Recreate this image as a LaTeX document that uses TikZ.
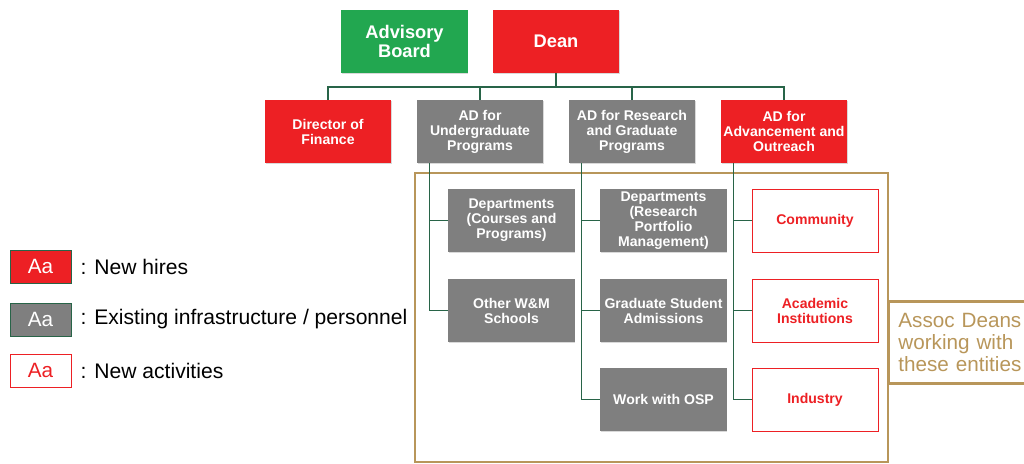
\documentclass[tikz,border=0pt]{standalone}
\usepackage{fontspec}
\setmainfont{Liberation Sans}
\usetikzlibrary{%
  calc,
  shadows
}

\definecolor{hirered}{RGB}{237,32,36}
\definecolor{boardgreen}{RGB}{34,167,80}
\definecolor{infragray}{RGB}{127,127,127}
\definecolor{linegreen}{RGB}{40,100,72}
\definecolor{assoctan}{RGB}{184,150,90}

\begin{document}
\begin{tikzpicture}[x=0.025cm, y=-0.025cm,
    box/.style={minimum width=3.15cm, minimum height=1.575cm, inner sep=1pt, align=center,
      font=\bfseries\fontsize{10}{10.7}\selectfont,
      drop shadow={opacity=0.3, shadow xshift=0.6pt, shadow yshift=-0.8pt}},
    bigbox/.style={box, font=\bfseries\fontsize{13}{13.6}\selectfont},
    hire/.style={box, fill=hirered, text=white},
    infra/.style={box, fill=infragray, text=white},
    activity/.style={box, fill=white, draw=hirered, line width=0.7pt, text=hirered},
    key/.style={minimum width=1.525cm, minimum height=0.825cm, inner sep=0pt,
      font=\fontsize{14.7}{15}\selectfont, draw=linegreen, line width=0.6pt,
      drop shadow={opacity=0.3, shadow xshift=0.6pt, shadow yshift=-0.8pt}},
    keytext/.style={anchor=west, inner sep=0pt, font=\fontsize{15}{18}\selectfont},
    link/.style={draw=linegreen, line width=0.8pt},
    assocline/.style={draw=assoctan, line width=2pt}]

    \useasboundingbox (0,0) rectangle (1024,463);
    \clip (0,0) rectangle (1024,463);

    %Top
    \node[bigbox, fill=boardgreen, text=white] (board) at (404.5,41.5) {Advisory\\Board};
    \node[bigbox, fill=hirered, text=white] (dean) at (556,41.5) {Dean};

    %Second row
    \node[hire] (finance) at (328,131.5) {Director of\\Finance};
    \node[infra] (adug) at (480,131.5) {AD for\\Undergraduate\\Programs};
    \node[infra] (adrg) at (632,131.5) {AD for Research\\and Graduate\\Programs};
    \node[hire] (adout) at (784,131.5) {AD for\\Advancement and\\Outreach};

    \coordinate (bus) at (556,87);
    \draw[link] (dean.south) -- (bus) -| (finance.north);
    \draw[link] (bus) -| (adug.north);
    \draw[link] (bus) -| (adrg.north);
    \draw[link] (bus) -| (adout.north);

    %Entities
    \draw[assocline] (415,173) rectangle (888,462);

    \node[infra] (deptug) at (511.5,220.5) {Departments\\(Courses and\\Programs)};
    \node[infra] (otherwm) at (511.5,310.5) {Other W\&M\\Schools};
    \node[infra] (deptrg) at (663.5,220.5) {Departments\\(Research\\Portfolio\\Management)};
    \node[infra] (gradadm) at (663.5,310.5) {Graduate Student\\Admissions};
    \node[infra] (osp) at (663.5,399.5) {Work with OSP};
    \node[activity] (community) at (815,220.5) {Community};
    \node[activity] (academic) at (815,310.5) {Academic\\Institutions};
    \node[activity] (industry) at (815,399.5) {Industry};

    \coordinate (ugtrunk) at ($(adug.south west)+(13,0)$);
    \coordinate (rgtrunk) at ($(adrg.south west)+(13,0)$);
    \coordinate (outtrunk) at ($(adout.south west)+(13,0)$);
    \draw[link] (ugtrunk) |- (deptug.west);
    \draw[link] (ugtrunk) |- (otherwm.west);
    \draw[link] (rgtrunk) |- (deptrg.west);
    \draw[link] (rgtrunk) |- (gradadm.west);
    \draw[link] (rgtrunk) |- (osp.west);
    \draw[link] (outtrunk) |- (community.west);
    \draw[link] (outtrunk) |- (academic.west);
    \draw[link] (outtrunk) |- (industry.west);

    \node[draw=assoctan, line width=2pt, anchor=north west, minimum width=4cm,
      minimum height=2.05cm, inner xsep=0.2cm, text width=3.5cm, align=left,
      text=assoctan, font=\fontsize{14.7}{15.6}\selectfont] (assoc) at (887,300)
      {Assoc Deans\\working with\\these entities};

    % Legend
    \node[key, fill=hirered, text=white] (keyhire) at (40.5,266.5) {Aa};
    \node[key, fill=infragray, text=white] (keyinfra) at (40.5,319.5) {Aa};
    \node[key, fill=white, draw=hirered, text=hirered] (keyact) at (40.5,370.5) {Aa};
    \node[keytext] (hiretext) at ($(keyhire.east)+(9,0)$) {: New hires};
    \node[keytext] (infratext) at ($(keyinfra.east)+(9,0)$) {: Existing infrastructure / personnel};
    \node[keytext] (acttext) at ($(keyact.east)+(9,0)$) {: New activities};

\end{tikzpicture}
\end{document}
